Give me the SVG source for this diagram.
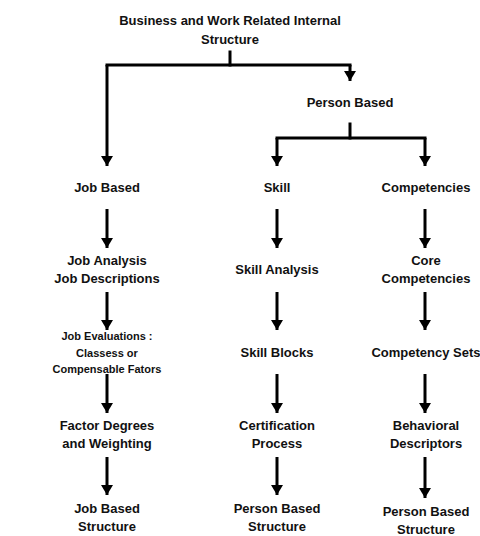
<svg xmlns="http://www.w3.org/2000/svg" width="480" height="536" viewBox="0 0 480 536">
<defs>
<marker id="ah" viewBox="0 0 10 12" refX="10" refY="6" markerWidth="10" markerHeight="12" markerUnits="userSpaceOnUse" orient="auto">
<path d="M0,0 L10,6 L0,12 Z" fill="#000"/>
</marker>
<style>
text{font-family:"Liberation Sans",Arial,sans-serif;font-weight:bold;font-size:13px;fill:#111;text-anchor:middle}
.sm{font-size:11px}
.c{fill:none;stroke:#000;stroke-width:3;stroke-linecap:square}
.a{fill:none;stroke:#000;stroke-width:3;marker-end:url(#ah)}
</style>
</defs>
<rect width="480" height="536" fill="#fff"/>
<g id="connectors">
<path class="c" d="M230,52 V65"/>
<path class="c" d="M107,65 H350"/>
<path class="a" d="M107,65 V166"/>
<path class="a" d="M350,65 V81"/>
<path class="c" d="M350,124 V138"/>
<path class="c" d="M277,138 H425"/>
<path class="a" d="M277,138 V166"/>
<path class="a" d="M425,138 V166"/>
<path class="a" d="M107,209 V248"/>
<path class="a" d="M277,209 V248"/>
<path class="a" d="M425,209 V248"/>
<path class="a" d="M107,292 V330"/>
<path class="a" d="M277,292 V330"/>
<path class="a" d="M425,292 V330"/>
<path class="a" d="M107,374 V413"/>
<path class="a" d="M277,374 V413"/>
<path class="a" d="M425,374 V413"/>
<path class="a" d="M107,457 V495"/>
<path class="a" d="M277,457 V495"/>
<path class="a" d="M425,457 V498"/>
</g>
<g id="root"><text x="230" y="25">Business and Work Related Internal</text><text x="230" y="44">Structure</text></g>
<g id="person"><text x="350" y="107">Person Based</text></g>
<g id="job"><text x="107" y="192">Job Based</text></g>
<g id="skill"><text x="277" y="192">Skill</text></g>
<g id="comp"><text x="426" y="192">Competencies</text></g>
<g id="jobanalysis"><text x="107" y="265">Job Analysis</text><text x="107" y="283">Job Descriptions</text></g>
<g id="skillanalysis"><text x="277" y="274">Skill Analysis</text></g>
<g id="core"><text x="426" y="265">Core</text><text x="426" y="283">Competencies</text></g>
<g id="jobeval"><text class="sm" x="107" y="340">Job Evaluations :</text><text class="sm" x="107" y="357">Classess or</text><text class="sm" x="107" y="373">Compensable Fators</text></g>
<g id="skillblocks"><text x="277" y="357">Skill Blocks</text></g>
<g id="compsets"><text x="426" y="357">Competency Sets</text></g>
<g id="factor"><text x="107" y="430">Factor Degrees</text><text x="107" y="448">and Weighting</text></g>
<g id="cert"><text x="277" y="430">Certification</text><text x="277" y="448">Process</text></g>
<g id="behav"><text x="426" y="430">Behavioral</text><text x="426" y="448">Descriptors</text></g>
<g id="jobstruct"><text x="107" y="513">Job Based</text><text x="107" y="531">Structure</text></g>
<g id="personstruct1"><text x="277" y="513">Person Based</text><text x="277" y="531">Structure</text></g>
<g id="personstruct2"><text x="426" y="516">Person Based</text><text x="426" y="534">Structure</text></g>
</svg>
